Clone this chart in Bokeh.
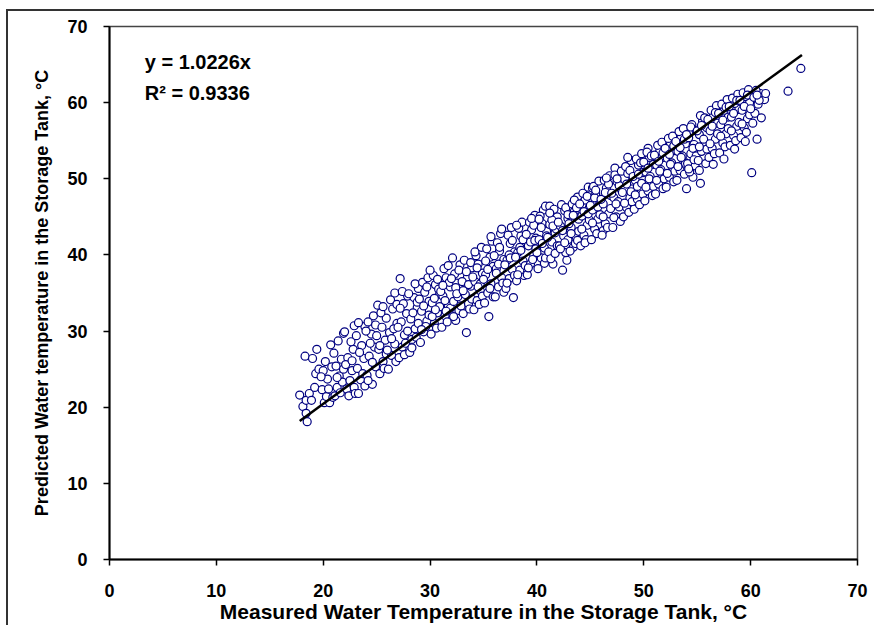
from bokeh.plotting import figure
from bokeh.models import FixedTicker, Label, ColumnDataSource
from bokeh.embed import file_html
from bokeh.resources import INLINE

# Measured vs predicted storage-tank water temperature (deg C)
measured = [
    17.8, 18.1, 18.4, 18.5, 18.4, 18.7, 18.9, 18.3, 19.0, 19.4, 19.3, 19.6, 19.2,
    19.9, 20.1, 20.6, 20.3, 20.0, 20.4, 20.8, 20.5, 19.8, 20.9, 20.7, 20.2,
    21.1, 21.3, 21.5, 21.2, 21.7, 21.8, 21.4, 21.9, 21.6, 21.0, 21.9, 21.3,
    22.0, 22.9, 22.2, 22.5, 22.7, 22.3, 22.8, 22.6, 22.1, 22.9, 22.4, 22.7,
    23.0, 23.3, 23.5, 23.2, 23.8, 23.6, 23.1, 23.9, 23.4, 23.7, 23.3, 23.9,
    24.6, 24.1, 24.3, 24.8, 24.5, 24.2, 24.9, 24.7, 24.4, 24.0, 24.9, 24.6, 24.2,
    25.1, 25.3, 25.6, 25.2, 25.8, 25.5, 25.9, 25.4, 25.7, 25.0, 25.6, 25.3, 25.9,
    26.1, 26.4, 26.7, 26.2, 26.9, 26.5, 26.3, 26.8, 26.6, 26.0, 26.9, 26.4, 26.7,
    27.2, 27.1, 27.4, 27.6, 27.3, 27.8, 27.5, 27.9, 27.0, 27.7, 27.4, 27.9, 27.2, 27.6,
    28.1, 28.3, 28.6, 28.2, 28.8, 28.5, 28.9, 28.4, 28.7, 28.0, 28.6, 28.9, 28.3, 28.8,
    29.1, 29.4, 29.7, 29.2, 29.9, 29.5, 29.3, 29.8, 29.6, 29.0, 29.9, 29.4, 29.7, 29.2,
    30.1, 30.4, 30.7, 30.2, 30.9, 30.5, 30.3, 30.8, 30.6, 30.0, 30.9, 30.4, 30.7, 30.2, 30.5,
    31.1, 31.4, 31.7, 31.2, 31.9, 31.5, 31.3, 31.8, 31.6, 31.0, 31.9, 31.4, 31.7, 31.2, 31.5,
    32.1, 32.4, 32.7, 32.2, 32.9, 32.5, 32.3, 32.8, 32.6, 32.0, 32.9, 32.4, 32.7, 32.2, 32.5,
    33.4, 33.1, 33.6, 33.3, 33.8, 33.5, 33.9, 33.2, 33.7, 33.0, 33.9, 33.4, 33.6, 33.1, 33.8,
    34.1, 34.4, 34.7, 34.2, 34.9, 34.5, 34.3, 34.8, 34.6, 34.0, 34.9, 34.4, 34.7, 34.2, 34.5,
    35.5, 35.1, 35.4, 35.7, 35.2, 35.9, 35.6, 35.3, 35.8, 35.0, 35.9, 35.4, 35.6, 35.2, 35.7,
    36.6, 36.1, 36.4, 36.7, 36.2, 36.9, 36.5, 36.3, 36.8, 36.0, 36.9, 36.4, 36.7, 36.2, 36.5,
    37.8, 37.1, 37.4, 37.7, 37.2, 37.9, 37.5, 37.3, 37.6, 37.0, 37.9, 37.4, 37.7, 37.2, 37.5,
    38.8, 38.1, 38.4, 38.7, 38.2, 38.9, 38.5, 38.3, 38.6, 38.0, 38.9, 38.4, 38.7, 38.2, 38.5, 38.1,
    39.1, 39.4, 39.7, 39.2, 39.9, 39.5, 39.3, 39.8, 39.6, 39.0, 39.9, 39.4, 39.7, 39.2, 39.5, 39.8,
    40.6, 40.1, 40.4, 40.7, 40.2, 40.9, 40.5, 40.3, 40.8, 40.0, 40.9, 40.4, 40.7, 40.2, 40.5, 40.8,
    41.2, 41.5, 41.1, 41.4, 41.7, 41.2, 41.9, 41.6, 41.3, 41.8, 41.0, 41.9, 41.4, 41.7, 41.2, 41.5,
    42.4, 42.8, 42.1, 42.5, 42.2, 42.9, 42.6, 42.3, 42.7, 42.0, 42.9, 42.4, 42.7, 42.2, 42.6, 42.9,
    43.4, 43.1, 43.7, 43.2, 43.9, 43.5, 43.3, 43.8, 43.6, 43.0, 43.9, 43.4, 43.7, 43.2, 43.5, 43.8,
    44.1, 44.4, 44.7, 44.2, 44.9, 44.5, 44.3, 44.8, 44.6, 44.0, 44.9, 44.4, 44.7, 44.2, 44.5, 44.8,
    45.2, 45.1, 45.4, 45.7, 45.2, 45.9, 45.5, 45.3, 45.8, 45.6, 45.0, 45.9, 45.4, 45.7, 45.2, 45.5,
    46.2, 46.1, 46.4, 46.7, 46.2, 46.9, 46.5, 46.3, 46.8, 46.6, 46.0, 46.9, 46.4, 46.7, 46.2, 46.5,
    47.3, 47.1, 47.4, 47.7, 47.2, 47.9, 47.5, 47.3, 47.8, 47.6, 47.0, 47.9, 47.4, 47.7, 47.2, 47.5,
    48.1, 48.4, 48.7, 48.2, 48.9, 48.5, 48.3, 48.8, 48.6, 48.0, 48.9, 48.4, 48.7, 48.2, 48.5, 48.8,
    49.1, 49.4, 49.7, 49.2, 49.9, 49.5, 49.3, 49.8, 49.6, 49.0, 49.9, 49.4, 49.7, 49.2, 49.5, 49.8,
    50.4, 50.1, 50.4, 50.7, 50.2, 50.9, 50.5, 50.3, 50.8, 50.6, 50.0, 50.9, 50.4, 50.7, 50.2, 50.5,
    51.1, 51.4, 51.7, 51.2, 51.9, 51.5, 51.3, 51.8, 51.6, 51.0, 51.9, 51.4, 51.7, 51.2, 51.5, 51.8,
    52.1, 52.4, 52.7, 52.2, 52.9, 52.5, 52.3, 52.8, 52.6, 52.0, 52.9, 52.4, 52.7, 52.2, 52.5, 52.8,
    53.1, 53.4, 53.7, 53.2, 53.9, 53.5, 53.3, 53.8, 53.6, 53.0, 53.9, 53.4, 53.7, 53.2, 53.5, 53.8,
    54.0, 54.6, 54.8, 54.1, 54.4, 54.7, 54.2, 54.9, 54.5, 54.3, 54.6, 54.0, 54.9, 54.4, 54.7, 54.2,
    55.3, 55.2, 55.1, 55.4, 55.7, 55.2, 55.9, 55.5, 55.3, 55.8, 55.6, 55.0, 55.9, 55.4, 55.7, 55.2,
    56.1, 56.4, 56.7, 56.2, 56.9, 56.5, 56.3, 56.8, 56.6, 56.0, 56.9, 56.4, 56.7, 56.2, 56.5,
    57.1, 57.4, 57.7, 57.2, 57.9, 57.5, 57.3, 57.8, 57.6, 57.0, 57.9, 57.4, 57.7, 57.2, 57.5,
    58.1, 58.4, 58.7, 58.2, 58.9, 58.5, 58.3, 58.8, 58.6, 58.0, 58.9, 58.4, 58.7, 58.2, 58.5,
    59.1, 59.4, 59.7, 59.2, 59.9, 59.5, 59.3, 59.8, 59.6, 59.0, 59.9, 59.4, 59.7, 59.2, 59.5,
    60.1, 60.6, 60.2, 60.4, 60.7, 60.3, 60.9, 60.5, 60.0, 61.3, 61.4, 60.8, 61.0, 60.6, 63.5, 64.7,
]

predicted = [
    21.6, 20.1, 19.2, 18.1, 20.9, 21.8, 20.9, 26.7, 26.4, 27.6, 24.4, 25.0, 22.6,
    22.3, 20.6, 20.6, 21.4, 24.8, 23.7, 25.3, 22.4, 24.0, 21.3, 28.2, 26.0,
    21.5, 22.6, 24.1, 25.4, 26.3, 23.3, 28.7, 29.7, 21.9, 27.1, 25.0, 23.9,
    29.9, 30.7, 22.4, 23.5, 24.8, 26.5, 27.6, 28.6, 25.6, 22.6, 21.5, 26.1,
    21.8, 21.8, 23.6, 25.1, 26.4, 28.1, 29.4, 30.6, 27.2, 24.4, 31.1, 22.8,
    23.0, 24.2, 26.7, 27.9, 29.6, 31.2, 25.3, 32.0, 28.4, 30.0, 30.8, 25.9, 23.5,
    33.4, 24.4, 26.0, 27.6, 28.8, 30.5, 31.7, 32.4, 25.1, 29.4, 33.2, 28.1, 27.0,
    25.0, 26.8, 28.3, 29.8, 31.0, 32.9, 34.1, 26.0, 30.3, 27.5, 33.5, 29.0, 35.0,
    36.9, 26.5, 27.9, 29.5, 31.2, 32.3, 33.6, 34.6, 30.5, 28.4, 35.2, 30.0, 33.0, 26.9,
    27.2, 28.9, 30.3, 31.6, 33.1, 34.4, 35.6, 32.4, 29.2, 34.9, 36.2, 31.0, 27.8, 33.8,
    28.5, 29.9, 31.3, 32.6, 33.9, 35.1, 36.4, 37.0, 30.6, 34.2, 32.1, 33.3, 35.8, 30.2,
    29.6, 31.0, 32.4, 33.7, 34.9, 36.1, 37.3, 35.5, 30.4, 38.0, 33.2, 34.3, 36.8, 31.9, 32.8,
    30.5, 32.0, 33.4, 34.6, 35.8, 37.0, 38.2, 36.4, 31.2, 35.2, 33.0, 34.0, 38.6, 36.0, 32.6,
    39.6, 31.4, 32.7, 33.9, 35.1, 36.3, 37.5, 38.7, 34.5, 36.9, 33.3, 35.7, 38.0, 31.9, 34.9,
    29.8, 32.3, 33.6, 34.8, 35.9, 37.1, 38.3, 39.3, 32.9, 36.5, 34.2, 37.8, 36.1, 35.3, 39.0,
    32.8, 34.0, 35.3, 36.5, 37.6, 38.8, 39.9, 41.0, 33.5, 37.1, 34.6, 38.3, 36.2, 40.4, 35.8,
    31.9, 33.7, 35.0, 36.2, 37.4, 38.5, 39.7, 40.8, 41.8, 36.8, 34.5, 38.1, 35.6, 39.2, 42.4,
    42.8, 34.5, 35.8, 37.0, 38.2, 39.4, 40.5, 41.6, 36.3, 39.9, 35.1, 38.8, 43.4, 37.6, 41.0,
    34.4, 35.6, 36.9, 38.1, 39.3, 40.4, 41.5, 42.6, 43.6, 38.7, 37.3, 40.0, 41.9, 36.3, 39.6,
    37.3, 36.6, 38.0, 39.2, 40.3, 41.4, 42.5, 43.5, 44.3, 39.7, 38.6, 41.0, 42.0, 37.4, 40.6, 43.9,
    37.4, 38.8, 40.0, 41.2, 42.2, 43.3, 44.3, 45.2, 39.4, 42.7, 40.8, 41.7, 43.9, 38.3, 44.8, 41.9,
    45.9, 38.2, 39.6, 40.9, 42.0, 43.1, 44.1, 45.1, 46.4, 40.3, 42.5, 43.6, 38.9, 44.7, 41.5, 39.6,
    46.4, 38.8, 40.4, 41.7, 42.9, 44.0, 45.0, 46.0, 39.5, 43.4, 42.3, 41.2, 44.6, 40.2, 45.5, 43.8,
    38.0, 39.3, 41.2, 42.5, 43.8, 44.8, 45.8, 46.6, 40.3, 44.3, 42.0, 43.2, 46.2, 40.8, 41.6, 45.3,
    41.0, 40.5, 42.3, 43.6, 44.7, 45.7, 46.7, 47.6, 41.5, 44.1, 43.1, 45.2, 46.2, 42.8, 47.2, 41.9,
    41.2, 42.6, 43.9, 45.1, 46.2, 47.2, 48.1, 48.9, 42.0, 46.7, 44.6, 45.7, 47.7, 43.4, 41.6, 45.4,
    48.8, 42.0, 43.4, 44.7, 45.9, 47.0, 48.0, 49.0, 49.7, 42.8, 46.5, 45.3, 47.5, 46.3, 44.2, 48.5,
    43.2, 42.6, 44.1, 45.4, 46.7, 47.8, 48.8, 49.8, 50.4, 43.6, 47.3, 46.1, 48.2, 49.3, 45.0, 50.1,
    51.4, 43.6, 45.0, 46.3, 47.5, 48.6, 49.6, 50.5, 44.4, 47.0, 48.1, 51.0, 46.7, 49.1, 44.9, 50.0,
    45.0, 46.2, 47.5, 48.7, 49.7, 50.7, 51.6, 52.4, 45.6, 48.2, 47.0, 49.3, 51.1, 46.8, 52.8, 48.3,
    46.0, 47.3, 48.6, 49.8, 50.8, 51.8, 52.6, 53.3, 46.6, 50.3, 48.0, 49.0, 52.1, 47.9, 50.6, 49.4,
    54.0, 47.1, 48.4, 49.7, 50.9, 51.9, 52.8, 53.5, 47.8, 50.3, 52.2, 49.0, 51.4, 53.0, 48.9, 50.0,
    48.0, 49.3, 50.6, 51.8, 52.8, 53.7, 54.4, 48.7, 51.2, 53.1, 50.0, 52.3, 54.8, 49.8, 51.0, 53.4,
    48.9, 50.2, 51.5, 52.7, 53.7, 54.6, 55.3, 49.6, 52.1, 54.0, 51.0, 53.2, 55.6, 50.7, 51.9, 54.3,
    49.8, 51.1, 52.4, 53.6, 54.6, 55.5, 56.2, 50.6, 53.0, 54.9, 52.0, 54.1, 56.6, 51.6, 52.8, 55.2,
    48.7, 50.2, 51.7, 52.0, 53.3, 54.5, 55.4, 56.3, 57.1, 50.9, 54.0, 55.8, 53.0, 56.8, 52.5, 51.3,
    49.4, 51.1, 52.4, 53.6, 54.8, 55.8, 56.7, 57.6, 58.3, 52.0, 55.2, 56.3, 53.9, 57.0, 58.0, 54.2,
    52.8, 54.0, 55.2, 56.3, 57.3, 58.2, 59.0, 59.6, 53.3, 57.8, 55.9, 56.9, 58.7, 54.6, 51.9,
    53.4, 54.7, 55.9, 57.1, 58.1, 59.0, 59.8, 60.4, 54.2, 58.6, 56.6, 57.7, 59.4, 55.6, 52.6,
    54.4, 55.7, 56.9, 58.1, 59.1, 59.9, 60.6, 61.1, 55.0, 59.5, 57.4, 58.6, 60.3, 56.3, 53.9,
    55.4, 56.7, 57.9, 59.0, 60.0, 60.8, 61.3, 61.7, 56.1, 60.3, 58.4, 59.5, 61.0, 57.2, 54.9,
    50.8, 55.2, 57.3, 58.6, 59.8, 60.7, 61.2, 61.6, 59.2, 60.4, 61.2, 60.3, 58.0, 61.0, 61.5, 64.5,
]

# Linear fit through the origin shown on the chart
fit_slope = 1.0226
fit_r2 = 0.9336
fit_x = [17.8, 64.8]

x_ticks = [0, 10, 20, 30, 40, 50, 60, 70]
y_ticks = [0, 10, 20, 30, 40, 50, 60, 70]

x_label = "Measured Water Temperature in the Storage Tank, \u00b0C"
y_label = "Predicted Water temperature in the Storage Tank, \u00b0C"
eq_text = "y = 1.0226x"
r2_text = "R\u00b2 = 0.9336"

assert len(measured) == len(predicted)

FONT = "Liberation Sans"

p = figure(
    width=874, height=625,
    x_range=(0, 70), y_range=(0, 70),
    output_backend="svg", toolbar_location=None,
    min_border_left=109, min_border_right=17,
    min_border_top=26, min_border_bottom=65,
)
# Outer chart border (only its left and top edges are in view), drawn as CSS background lines
p.styles = {
    "background-color": "white",
    "background-image": "linear-gradient(#333333, #333333), linear-gradient(#333333, #333333)",
    "background-size": "2px 100%, 100% 2px",
    "background-position": "6px 9px, 6px 9px",
    "background-repeat": "no-repeat",
}

p.xgrid.visible = False
p.ygrid.visible = False
p.background_fill_color = "white"
p.border_fill_color = None
p.outline_line_color = "#444444"
p.outline_line_width = 1.5

for ax, ticks in ((p.xaxis[0], x_ticks), (p.yaxis[0], y_ticks)):
    ax.ticker = FixedTicker(ticks=ticks)
    ax.axis_line_color = "black"
    ax.axis_line_width = 2
    ax.major_tick_line_color = "black"
    ax.major_tick_line_width = 1.5
    ax.major_tick_out = 6
    ax.major_tick_in = 0
    ax.minor_tick_line_color = None
    ax.major_label_text_font = FONT
    ax.major_label_text_font_style = "bold"
    ax.major_label_text_font_size = "18px"
    ax.major_label_text_color = "black"
    ax.axis_label_text_font = FONT
    ax.axis_label_text_font_style = "bold"
    ax.axis_label_text_color = "black"

p.xaxis.axis_label = x_label
p.yaxis.axis_label = y_label
p.xaxis.axis_label_text_font_size = "21px"
p.yaxis.axis_label_text_font_size = "18px"
p.xaxis.major_label_standoff = 18
p.yaxis.major_label_standoff = 16
p.xaxis.axis_label_standoff = 0
p.yaxis.axis_label_standoff = 12

src = ColumnDataSource(data=dict(x=measured, y=predicted))
p.scatter("x", "y", source=src, marker="circle", size=8,
          fill_color="white", line_color="#000080", line_width=1.2)

fit_y = [fit_slope * v for v in fit_x]
p.line(fit_x, fit_y, line_color="black", line_width=2.5)

p.add_layout(Label(x=3.3, y=65.3, text=eq_text, text_font=FONT, text_font_style="bold",
                   text_font_size="20px", text_color="black", text_baseline="alphabetic"))
p.add_layout(Label(x=3.3, y=61.3, text=r2_text, text_font=FONT, text_font_style="bold",
                   text_font_size="20px", text_color="black", text_baseline="alphabetic"))

open("out.html", "w").write(file_html(p, INLINE))
